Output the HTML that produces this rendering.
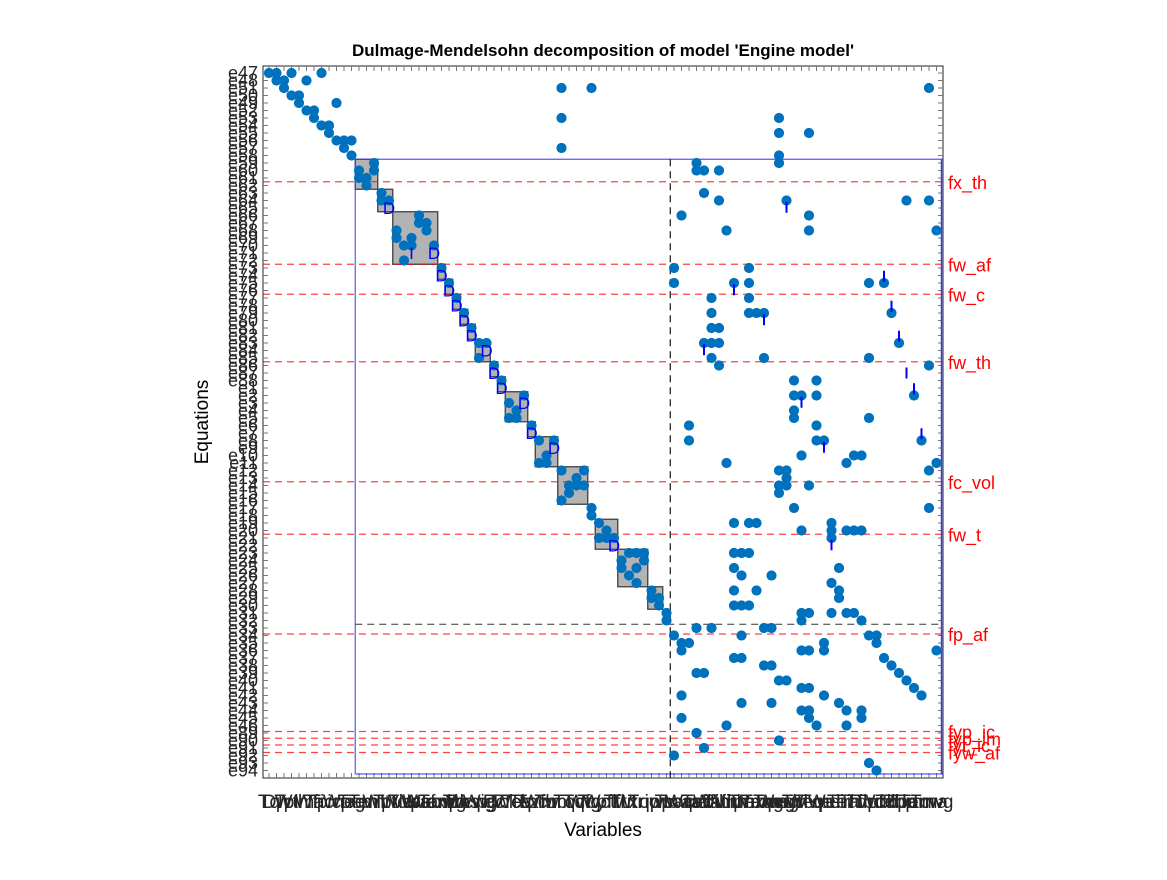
<!DOCTYPE html>
<html><head><meta charset="utf-8"><style>
body{margin:0;background:#fff;width:1167px;height:875px;overflow:hidden}
svg text{font-family:"Liberation Sans",sans-serif}
</style></head><body>
<svg id="chart" width="1167" height="875" xmlns="http://www.w3.org/2000/svg">
<rect width="1167" height="875" fill="#fff"/>
<text x="603" y="56" font-size="17" font-weight="bold" text-anchor="middle">Dulmage-Mendelsohn decomposition of model 'Engine model'</text>
<text x="0" y="0" font-size="19" text-anchor="middle" transform="translate(208,422) rotate(-90)">Equations</text>
<text x="603" y="836" font-size="19" text-anchor="middle">Variables</text>
<g id="layer"></g>
</svg>
<script>
const nRows = 94, nCols = 90;
const dotRows = [1,1,1,1,2,2,2,3,4,4,5,5,6,6,7,8,8,9,10,10,10,11,12,13,14,14,15,15,16,17,18,18,20,21,21,22,22,23,23,24,24,24,26,27,29,31,33,35,37,37,39,40,42,44,45,46,47,47,48,50,50,52,53,53,54,54,55,56,56,56,57,58,59,60,61,62,63,63,63,65,65,65,66,66,67,67,68,69,70,71,71,72,73,74,76,3,3,7,11,
3,7,9,9,12,13,13,14,14,14,17,18,18,18,18,20,20,22,22,22,27,27,29,29,29,29,29,31,31,33,33,33,33,33,35,35,37,37,37,37,
39,39,39,40,40,42,42,44,44,44,44,46,47,47,48,48,50,50,50,50,52,52,52,53,53,53,54,54,54,55,56,56,56,57,59,59,61,61,61,61,62,62,62,62,62,63,65,65,65,67,67,68,68,69,70,70,70,71,72,72,72,73,73,73,73,73,74,74,75,75,75,75,
76,76,76,77,77,77,77,78,78,78,78,78,79,79,79,80,80,80,81,81,81,82,82,82,83,83,83,84,84,84,85,85,85,86,86,86,86,87,87,87,88,88,88,89,90,91,92,93,94];
const dotCols = [1,2,4,8,2,3,6,3,4,5,5,10,6,7,7,8,9,9,10,11,12,11,12,15,13,15,13,14,14,16,16,17,21,21,22,22,18,18,20,19,20,23,19,24,25,26,27,28,29,30,29,31,32,35,33,34,33,34,36,37,39,38,37,38,40,43,42,41,42,43,41,40,44,44,45,46,45,46,47,49,50,51,48,51,48,50,49,50,52,52,53,53,54,54,55,40,44,40,40,
89,69,69,73,69,69,58,58,59,61,59,61,70,86,89,56,73,62,73,90,55,65,55,63,65,81,83,60,65,60,65,66,67,84,60,61,59,60,61,85,
60,67,81,61,89,71,74,71,72,74,87,71,71,81,57,74,57,74,75,88,72,79,80,62,78,90,69,70,89,70,69,70,73,69,71,89,63,65,66,76,72,76,78,79,80,76,63,64,65,63,77,64,68,76,63,66,77,77,63,64,65,72,73,76,78,79,72,80,58,60,67,68,
64,81,82,56,57,75,82,56,72,73,75,90,63,64,83,67,68,84,58,59,85,69,70,86,72,73,87,56,75,88,64,68,77,72,73,78,80,56,73,80,62,74,78,58,69,59,55,81,82];
const blockR1 = [13,17,20,27,29,31,33,35,38,40,42,44,48,50,54,61,65,70];
const blockR2 = [16,19,26,28,30,32,34,36,39,41,43,47,49,53,58,64,69,72];
const blockC1 = [13,16,18,24,25,26,27,28,29,31,32,33,36,37,40,45,48,52];
const blockC2 = [15,17,23,24,25,26,27,28,30,31,32,35,36,39,43,47,51,53];
const markRows = [19,25,25,28,30,32,34,36,38,41,43,45,49,51,64];
const markCols = [17,23,20,24,25,26,27,28,30,31,32,35,36,39,47];
const markText = ["D","D","I","D","D","D","D","D","D","D","D","D","D","D","D"];
const tickRows = [18.9,29.9,28.1,33.9,32.1,37.9,36.1,41,43.1,44.9,49.1,50.9,63.9];
const tickCols = [70,63,83,67,84,59,85,86,87,72,88,75,76];
const redLineRows = [15.5,26.5,30.5,39.5,55.5,62.5,75.8,88.8,89.7,90.6,91.6];
const redLabels = ["fx_th","fw_af","fw_c","fw_th","fc_vol","fw_t","fp_af","fyp_ic","fyp_im","fyt_ic","fyw_af"];
const blueTopRow = 12.5, blueLeftCol = 12.5, blackRow = 74.5, blackCol = 54.5;
const varNames = ["Tq","Dw","Tc","Wth","pim","Wf","Ta","Tic","pic","Wc","ne","Trg","pem","Tem","Wt","Tt","pt","Wic","Tcw","Wes","Waf","Wex","pamb","Tamb","uwg","Tth","pes","Wcwg","Wig","pc","Pc","Tcl","Wcl","Tes","Tex","Tpc","Wfb","Tw","mc","mt","Tqc","Tqt","Wfg","Tcy","Wct","pfl","Tfl","Ttr","Wtr","xr","Tqp","ic","wt","wc","Tcac","pcac","Wcac","Tafi","pafi","Wafi","Tthr","Athr","uth","Tm","Wm","pexm","Texm","Tegr","Wegr","pegr","Tiv","Wiv","Teo","Tqe","Wei","pei","Tei","Trh","Tair","Tdp","Tcd","Wcd","ucd","Tbp","Pbp","Tlm","Ten","Tamv","Tma","cwg"];
const eqNames = [];
const eqOrder = [47,48,51,50,49,52,53,54,55,56,57,58,59,60,61,62,63,64,65,66,67,68,69,70,71,72,73,74,75,76,77,78,79,80,81,82,83,84,85,86,87,88,1,2,3,4,5,6,7,8,9,10,11,12,13,14,15,16,17,18,19,20,21,22,23,24,25,26,27,28,29,30,31,32,33,34,35,36,37,38,39,40,41,42,43,44,45,46,89,90,91,92,93,94];
for (const k of eqOrder) eqNames.push("e" + k);

const L = 263, R = 943, T = 66, B = 778;
const xs = c => 261.5 + 7.5 * c;
const ys = r => 65.5 + 7.5 * r;
const NS = "http://www.w3.org/2000/svg";
const layer = document.getElementById("layer");
function mk(tag, attrs, parent) {
  const e = document.createElementNS(NS, tag);
  for (const k in attrs) e.setAttribute(k, attrs[k]);
  (parent || layer).appendChild(e);
  return e;
}
const box = mk("rect", {x: L, y: T, width: R - L, height: B - T, fill: "none", stroke: "#262626", "stroke-width": 1});


const tg = mk("g", {stroke: "#777", "stroke-width": 1});


for (let c = 1; c <= nCols; c++) {
  const x = xs(c);
  mk("line", {x1: x, y1: T, x2: x, y2: T + 5}, tg);
  mk("line", {x1: x, y1: B, x2: x, y2: B - 5}, tg);
}
for (let r = 1; r <= nRows; r++) {
  const y = ys(r);
  mk("line", {x1: L, y1: y, x2: L + 5, y2: y}, tg);
  mk("line", {x1: R, y1: y, x2: R - 5, y2: y}, tg);
}
for (let i = 0; i < blockR1.length; i++) {
  const x1 = xs(blockC1[i]) - 3.75, x2 = xs(blockC2[i]) + 3.75;
  const y1 = ys(blockR1[i]) - 3.75, y2 = ys(blockR2[i]) + 3.75;
  const b = mk("rect", {x: x1, y: y1, width: x2 - x1, height: y2 - y1, fill: "#b3b3b3", stroke: "#404040", "stroke-width": 1.3});
  
  
}
for (let i = 0; i < redLineRows.length; i++) {
  const y = ys(redLineRows[i]);
  const ln = mk("line", {x1: L, y1: y, x2: R, y2: y, stroke: "#ff0000", "stroke-opacity": 0.75, "stroke-dasharray": "7,5", "stroke-width": 1.2});
  
  
  const t = mk("text", {x: 948, y: y + 7, fill: "#ff0000", "font-size": 18});
  t.textContent = redLabels[i];
  
  
}
const by = ys(blueTopRow), bx = xs(blueLeftCol);
const blue = mk("path", {d: `M${bx},${B-4} V${by} H${R} M${bx},${B-4} H${R}`, fill: "none", stroke: "#3b3bff", "stroke-width": 1.2, "stroke-opacity": 0.85});


const bRight = mk("line", {x1: R - 1.5, y1: by, x2: R - 1.5, y2: B - 4, stroke: "#3b3bff", "stroke-width": 1.5});


const kx = xs(blackCol), ky = ys(blackRow);
const bh = mk("line", {x1: bx, y1: ky, x2: R, y2: ky, stroke: "#333", "stroke-dasharray": "7,5", "stroke-width": 1.1});


const bv = mk("line", {x1: kx, y1: by, x2: kx, y2: B, stroke: "#000", "stroke-dasharray": "7,5", "stroke-width": 1.1});


for (let i = 0; i < dotRows.length; i++) {
  const d = mk("circle", {cx: xs(dotCols[i]), cy: ys(dotRows[i]), r: 5.1, fill: "#0072BD"});
  
  
}
for (let i = 0; i < tickRows.length; i++) {
  const x = xs(tickCols[i]), y = ys(tickRows[i]);
  const t = mk("line", {x1: x, y1: y - 5.5, x2: x, y2: y + 5.5, stroke: "#0000ff", "stroke-width": 2});
  
  
}
for (let i = 0; i < markRows.length; i++) {
  const t = mk("text", {x: xs(markCols[i]), y: ys(markRows[i]) + 6, fill: "#0000ff", "font-size": 17, "text-anchor": "middle"});
  t.textContent = markText[i];
  
  
}
for (let r = 1; r <= nRows; r++) {
  const t = mk("text", {x: 258, y: ys(r) + 6, "font-size": 18, "text-anchor": "end", fill: "#262626"});
  t.textContent = eqNames[r - 1];
  
  
}
for (let c = 1; c <= nCols; c++) {
  const t = mk("text", {x: xs(c), y: 808, "font-size": 19, "text-anchor": "middle", fill: "#262626"});
  t.textContent = varNames[c - 1];
  
  
}
</script>
</body></html>
